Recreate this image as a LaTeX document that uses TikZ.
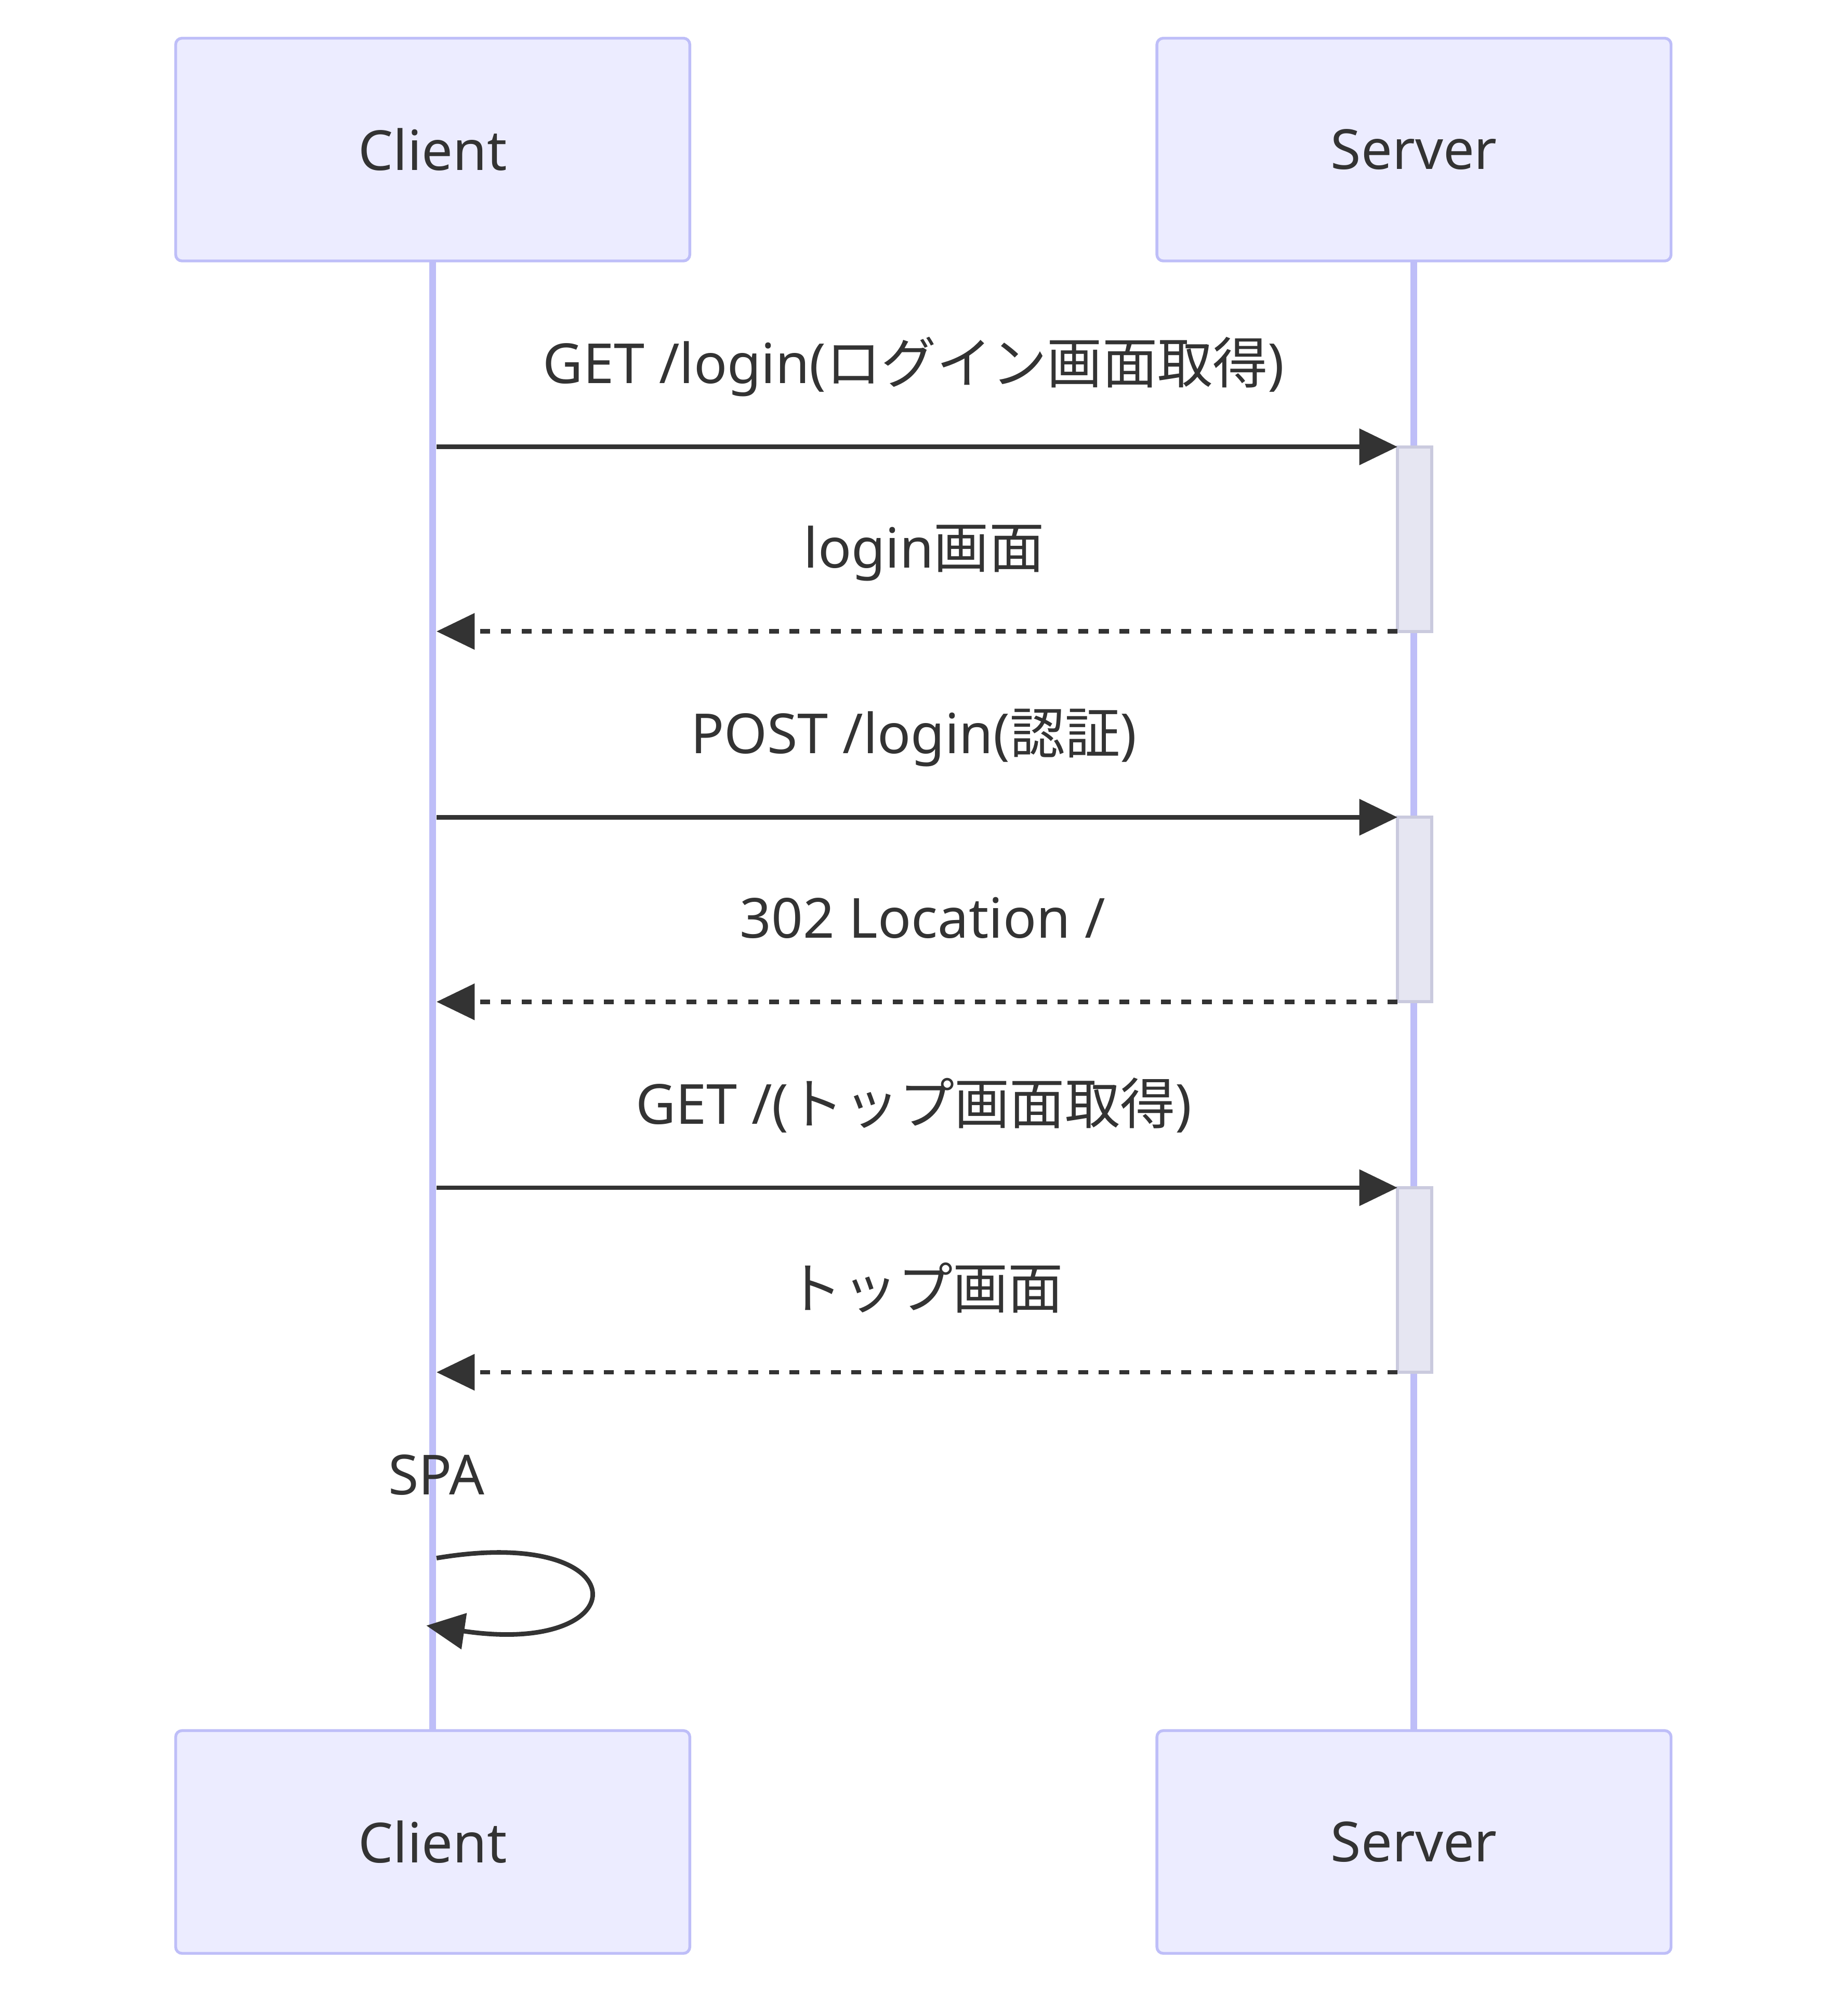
\documentclass[tikz,border=0pt]{standalone}
\usepackage{fontspec}
\setmainfont{Noto Sans}
\newfontfamily\jp{Noto Sans CJK JP}
\usetikzlibrary{arrows.meta}
\definecolor{actfill}{RGB}{236,236,255}
\definecolor{actline}{RGB}{190,190,248}
\definecolor{txt}{RGB}{51,51,51}
\definecolor{actvfill}{RGB}{230,230,242}
\definecolor{actvline}{RGB}{202,202,222}
\begin{document}
\begin{tikzpicture}[x=0.5pt,y=-0.5pt,
  actor/.style={draw=actline, fill=actfill, line width=1.1pt, rounded corners=2.5pt,
    minimum width=202pt, minimum height=87.5pt, inner sep=0pt,
    font=\fontsize{21.7}{26}\selectfont, text=txt},
  life/.style={draw=actline, line width=2.6pt},
  activ/.style={draw=actvline, fill=actvfill, line width=1.2pt, outer sep=0pt,
    minimum width=13.5pt, minimum height=72.5pt, inner sep=0pt},
  msg/.style={draw=txt, line width=1.8pt, line cap=butt,
    -{Triangle[length=15pt,width=14pt]}, color=txt},
  reply/.style={msg, dash pattern=on 3.9pt off 4.2pt},
  lbl/.style={anchor=base, inner sep=0pt, text=txt, font=\fontsize{21.7}{26}\selectfont}
]
\useasboundingbox (0,0) rectangle (1452,1568);
\fill[white] (0,0) rectangle (1452,1568);

% actors
\coordinate (ctc) at (340,117.5);
\coordinate (stc) at (1111,117.5);
\coordinate (cbc) at (340,1447);
\coordinate (sbc) at (1111,1447);

% lifelines
\draw[life] (340,205) coordinate (cl0) -- (340,1360) coordinate (cl1);
\draw[life] (1111,205) coordinate (sl0) -- (1111,1360) coordinate (sl1);

\node[actor] (ct) at (ctc) {Client};
\node[actor] (st) at (stc) {Server};
\node[actor] (cb) at (cbc) {Client};
\node[actor] (sb) at (sbc) {Server};

% activations
\node[activ] (a1) at (1111.5,423.5) {};
\node[activ] (a2) at (1111.5,714.5) {};
\node[activ] (a3) at (1111.5,1005.5) {};

% client side endpoints
\coordinate (c1) at (343,351);
\coordinate (c2) at (343,496);
\coordinate (c3) at (343,642);
\coordinate (c4) at (343,787);
\coordinate (c5) at (343,933);
\coordinate (c6) at (343,1078);

% messages
\draw[msg] (c1) -- (a1.north west);
\draw[reply] (a1.south west) -- (c2);
\draw[msg] (c3) -- (a2.north west);
\draw[reply] (a2.south west) -- (c4);
\draw[msg] (c5) -- (a3.north west);
\draw[reply] (a3.south west) -- (c6);

% labels
\node[lbl] (m1) at (718,301) {GET /login({\jp ログイン画面取得})};
\node[lbl] (m2) at (726,446) {login{\jp 画面}};
\node[lbl] (m3) at (718,592) {POST /login({\jp 認証})};
\node[lbl] (m4) at (725,737) {302 Location /};
\node[lbl] (m5) at (718,883) {GET /({\jp トップ画面取得})};
\node[lbl] (m6) at (727,1028) {{\jp トップ画面}};
\node[lbl] (m7) at (343,1174) {SPA};

% self loop
\coordinate (sp0) at (343,1224);
\coordinate (sp1) at (335,1277);
\draw[msg] (sp0) .. controls (503,1197) and (503,1302) .. (sp1);
\end{tikzpicture}
\end{document}
